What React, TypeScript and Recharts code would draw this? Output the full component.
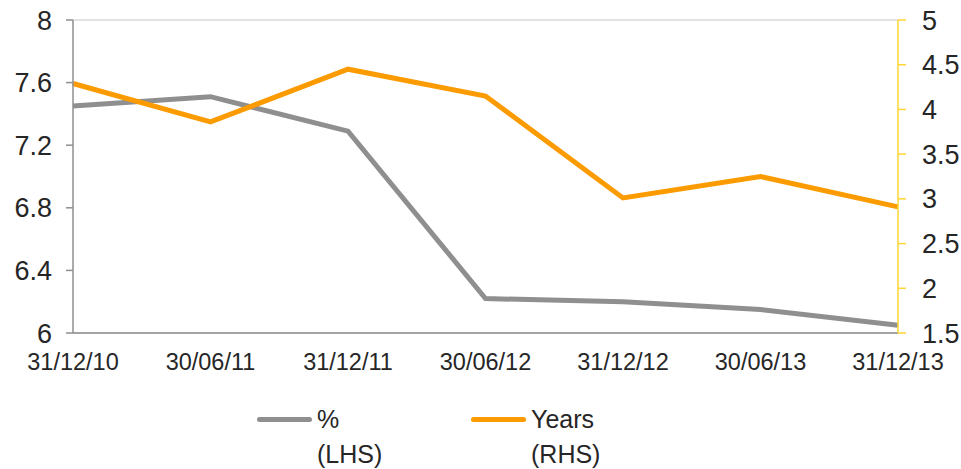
import React from "react";
import {
  LineChart,
  Line,
  XAxis,
  YAxis,
  CartesianGrid,
} from "recharts";

const dates = [
  "31/12/10",
  "30/06/11",
  "31/12/11",
  "30/06/12",
  "31/12/12",
  "30/06/13",
  "31/12/13",
];
const pctValues = [7.45, 7.51, 7.29, 6.22, 6.2, 6.15, 6.05];
const yearValues = [4.29, 3.86, 4.45, 4.15, 3.01, 3.25, 2.91];

const leftTicks = [6, 6.4, 6.8, 7.2, 7.6, 8];
const rightTicks = [1.5, 2, 2.5, 3, 3.5, 4, 4.5, 5];

const GREY = "#8f8f8f";
const ORANGE = "#fb9b00";
const FONT = "'Liberation Sans', Arial, sans-serif";

const data = dates.map((d, i) => ({
  date: d,
  pct: pctValues[i],
  years: yearValues[i],
}));

function LegendItem({ color, label, sub, left }: { color: string; label: string; sub: string; left: number }) {
  return (
    <div style={{ position: "absolute", left, top: 402, display: "flex" }}>
      <div
        style={{
          width: 55,
          height: 5,
          borderRadius: 3,
          background: color,
          marginTop: 15,
          marginRight: 5,
        }}
      />
      <div style={{ fontSize: 25, lineHeight: "35px", color: "#262626" }}>
        {label}
        <br />
        {sub}
      </div>
    </div>
  );
}

export default function App() {
  return (
    <div
      style={{
        position: "absolute",
        left: 0,
        top: 0,
        width: 961,
        height: 469,
        fontFamily: FONT,
        background: "#fff",
      }}
    >
      <LineChart
        width={961}
        height={469}
        data={data}
        margin={{ top: 20, right: 0, left: 0, bottom: 100 }}
      >
        <CartesianGrid vertical={false} stroke="#d9d9d9" strokeWidth={1.5} />
        <XAxis
          dataKey="date"
          interval={0}
          tickLine={false}
          tickSize={0}
          tickMargin={20}
          height={36}
          axisLine={{ stroke: GREY, strokeWidth: 1.5 }}
          tick={{ fill: "#262626", fontSize: 23.5, fontFamily: FONT }}
        />
        <YAxis
          yAxisId="left"
          domain={[6, 8]}
          ticks={leftTicks}
          width={73}
          tickSize={7}
          tickMargin={14}
          axisLine={{ stroke: GREY, strokeWidth: 1.5 }}
          tickLine={{ stroke: GREY, strokeWidth: 1.5 }}
          tick={{ fill: "#262626", fontSize: 27, fontFamily: FONT }}
        />
        <YAxis
          yAxisId="right"
          orientation="right"
          domain={[1.5, 5]}
          ticks={rightTicks}
          width={63}
          tickSize={8}
          tickMargin={16}
          axisLine={{ stroke: "#ffd633", strokeWidth: 1.5 }}
          tickLine={{ stroke: "#ffd633", strokeWidth: 1.5 }}
          tick={{ fill: "#262626", fontSize: 27, fontFamily: FONT }}
        />
        <Line
          yAxisId="left"
          dataKey="pct"
          stroke={GREY}
          strokeWidth={5}
          dot={false}
          isAnimationActive={false}
        />
        <Line
          yAxisId="right"
          dataKey="years"
          stroke={ORANGE}
          strokeWidth={5}
          dot={false}
          isAnimationActive={false}
        />
      </LineChart>
      <LegendItem color={GREY} label="%" sub="(LHS)" left={257} />
      <LegendItem color={ORANGE} label="Years" sub="(RHS)" left={471} />
    </div>
  );
}
